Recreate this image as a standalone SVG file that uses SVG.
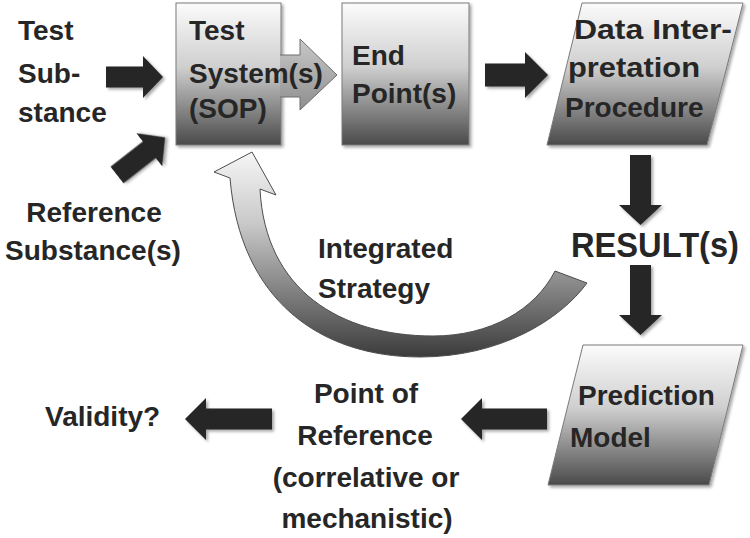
<svg xmlns="http://www.w3.org/2000/svg" width="750" height="538" viewBox="0 0 750 538">
  <defs>
    <linearGradient id="boxGrad" x1="0" y1="0" x2="0" y2="1">
      <stop offset="0" stop-color="#fbfbfb"/>
      <stop offset="0.45" stop-color="#cfcfcf"/>
      <stop offset="1" stop-color="#4a4a4a"/>
    </linearGradient>
    <linearGradient id="innerArrowGrad" x1="0" y1="0" x2="0" y2="1">
      <stop offset="0" stop-color="#c8c8c8"/>
      <stop offset="1" stop-color="#8e8e8e"/>
    </linearGradient>
    <linearGradient id="curveGrad" gradientUnits="userSpaceOnUse" x1="0" y1="150" x2="0" y2="360">
      <stop offset="0" stop-color="#f7f7f7"/>
      <stop offset="0.35" stop-color="#c9c9c9"/>
      <stop offset="1" stop-color="#383838"/>
    </linearGradient>
    <filter id="shadow" x="-10%" y="-10%" width="130%" height="130%">
      <feDropShadow dx="2" dy="2" stdDeviation="1.5" flood-color="#000" flood-opacity="0.35"/>
    </filter>
  </defs>
  <style>
    text { font-family: "Liberation Sans", Arial, sans-serif; font-weight: bold; font-size: 28px; fill: #262626; }
    .box { fill: url(#boxGrad); stroke: #7a7a7a; stroke-width: 1; filter: url(#shadow); }
    .dark { fill: #262626; filter: url(#shadow); }
    .mid { text-anchor: middle; }
    .big { font-size: 35px; }
  </style>

  <g id="connectors">
    <path class="dark" d="M106,66.5 H143 V56 L163,77 L143,98 V87.5 H106 Z"/>
    <path class="dark" transform="translate(117,175) rotate(-38)" d="M0,-10.5 H41 V-21 L61,0 L41,21 V10.5 H0 Z"/>
    <path class="dark" d="M485,63.5 H525 V52 L548,75 L525,98 V86.5 H485 Z"/>
    <path class="dark" d="M630,155 H651 V205 H662 L640.5,225 L619,205 H630 Z"/>
    <path class="dark" d="M630,265 H651 V315 H662 L640.5,335 L619,315 H630 Z"/>
    <path class="dark" d="M547,408.5 H482 V398 L461,419 L482,440 V429.5 H547 Z"/>
    <path class="dark" d="M272,408.5 H206 V398 L185,419 L206,440 V429.5 H272 Z"/>
    <path d="M555,271 L587,283 C560,320 500,357 420,357 C320,357 240,300 230,178 L214,172 L252,152 L276,195 L260,189 C265,290 340,336 433,336 C490,336 535,310 555,271 Z" fill="url(#curveGrad)" stroke="#4d4d4d" stroke-width="1"/>
  </g>

  <g id="test-substance">
    <text x="18" y="40">Test</text>
    <text x="18" y="83">Sub-</text>
    <text x="18" y="122">stance</text>
  </g>

  <g id="reference-substance">
    <text class="mid" x="94" y="222">Reference</text>
    <text class="mid" x="93" y="260">Substance(s)</text>
  </g>

  <g id="test-system">
    <rect class="box" x="176" y="3" width="105" height="142"/>
    <path d="M280,55 H300 V39 L337,75 L300,110 V97 H280" fill="url(#innerArrowGrad)" stroke="#6e6e6e" stroke-width="1"/>
    <text x="189" y="40">Test</text>
    <text x="189" y="83">System(s)</text>
    <text x="189" y="118">(SOP)</text>
  </g>

  <g id="end-point">
    <rect class="box" x="342" y="3" width="127" height="142"/>
    <text x="352" y="65">End</text>
    <text x="352" y="103">Point(s)</text>
  </g>

  <g id="data-interpretation">
    <polygon class="box" points="582,3 743,3 707,145 547,145"/>
    <text x="574" y="39" textLength="158" lengthAdjust="spacingAndGlyphs">Data Inter-</text>
    <text x="568" y="77" textLength="132" lengthAdjust="spacingAndGlyphs">pretation</text>
    <text x="565" y="117">Procedure</text>
  </g>

  <g id="results">
    <text class="big" x="571" y="257" textLength="168" lengthAdjust="spacingAndGlyphs">RESULT(s)</text>
  </g>

  <g id="integrated-strategy">
    <text x="318" y="258">Integrated</text>
    <text x="318" y="298">Strategy</text>
  </g>

  <g id="prediction-model">
    <polygon class="box" points="583,345 743,345 709,485 548,485"/>
    <text x="578" y="405">Prediction</text>
    <text x="570" y="447">Model</text>
  </g>

  <g id="point-of-reference">
    <text class="mid" x="366" y="403">Point of</text>
    <text class="mid" x="365" y="445">Reference</text>
    <text class="mid" x="366" y="487">(correlative or</text>
    <text class="mid" x="367" y="528">mechanistic)</text>
  </g>

  <g id="validity">
    <text x="45" y="426">Validity?</text>
  </g>
</svg>
